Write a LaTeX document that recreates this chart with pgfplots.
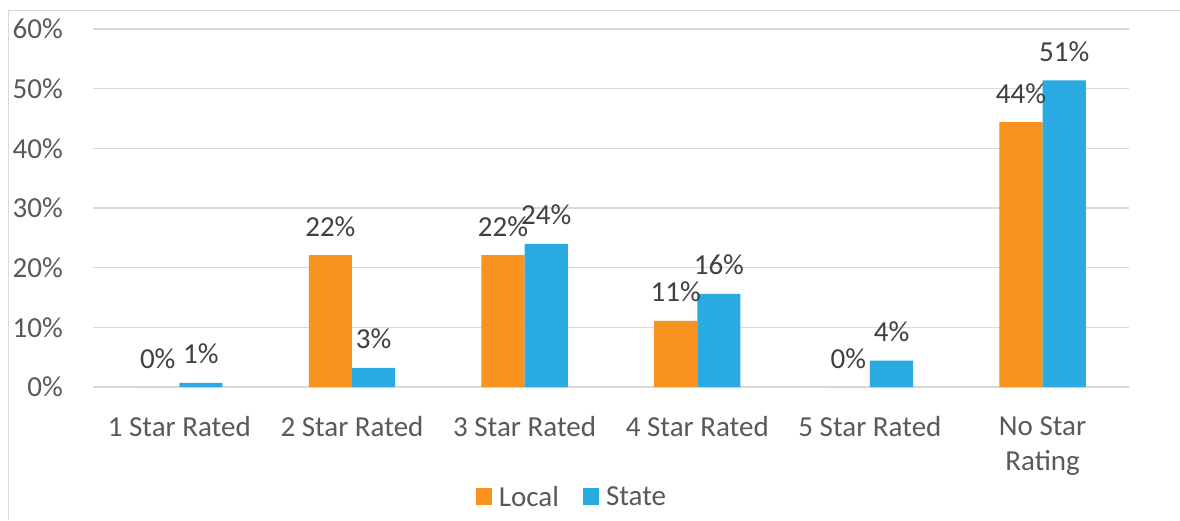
\documentclass[border=0pt]{standalone}
\usepackage{fontspec}
\setmainfont{Carlito}
\usepackage{pgfplots}
\pgfplotsset{compat=1.18}
\definecolor{orangeB}{HTML}{F7931E}
\definecolor{blueB}{HTML}{29ABE2}
\definecolor{gridc}{HTML}{D9D9D9}
\definecolor{txt}{HTML}{595959}
\definecolor{lbl}{HTML}{404040}
\begin{document}
\begin{tikzpicture}[font=\fontsize{29}{35}\selectfont]
\fill[white] (0,0) rectangle (1180pt,520pt);
\begin{axis}[
  at={(93pt,133pt)}, anchor=south west,
  scale only axis, width=1036pt, height=358pt,
  xmin=-0.5, xmax=5.5, ymin=0, ymax=60,
  enlargelimits=false,
  ybar=0pt, bar width=0.25,
  ytick={0,10,20,30,40,50,60},
  yticklabels={0\%,10\%,20\%,30\%,40\%,50\%,60\%},
  xtick={0,1,2,3,4,5},
  xticklabels={1 Star Rated,2 Star Rated,3 Star Rated,4 Star Rated,5 Star Rated,{No Star\\Rating}},
  xticklabel style={align=center, anchor=north, inner sep=0pt, yshift=-29pt, text=txt},
  yticklabel style={anchor=east, inner sep=0pt, xshift=-30pt, text=txt},
  ymajorgrids, grid style={gridc, line width=1.2pt},
  axis x line=bottom, axis y line=left,
  axis line style={-},
  x axis line style={gridc, line width=1.2pt},
  y axis line style={draw=none},
  tick style={draw=none}, major tick length=0pt,
  nodes near coords={\pgfmathprintnumber[fixed,precision=0,assume math mode=true]{\pgfplotspointmeta}\%},
  nodes near coords style={anchor=base, inner sep=0pt, yshift=19pt, text=lbl},
  legend style={draw=none, fill=none, at={(0.4615,-0.307)}, anchor=center,
    legend columns=2, nodes={inner sep=0pt, text=txt},
    /tikz/every odd column/.append style={column sep=7pt},
    /tikz/every even column/.append style={column sep=24pt}},
  legend image code/.code={\fill[#1] (0pt,-8pt) rectangle (16pt,9pt);},
]
\addplot[fill=orangeB, draw=none] coordinates {(0,0) (1,22.1) (2,22.1) (3,11.1) (4,0) (5,44.4)};
\addplot[fill=blueB, draw=none] coordinates {(0,0.7) (1,3.2) (2,24.0) (3,15.6) (4,4.4) (5,51.4)};
\legend{Local,State}
\end{axis}
\draw[gridc, line width=1.2pt] (8.5pt,0) -- (8.5pt,509.5pt) -- (1180pt,509.5pt);
\pgfresetboundingbox
\useasboundingbox (0,0) rectangle (1180pt,520pt);
\end{tikzpicture}
\end{document}
